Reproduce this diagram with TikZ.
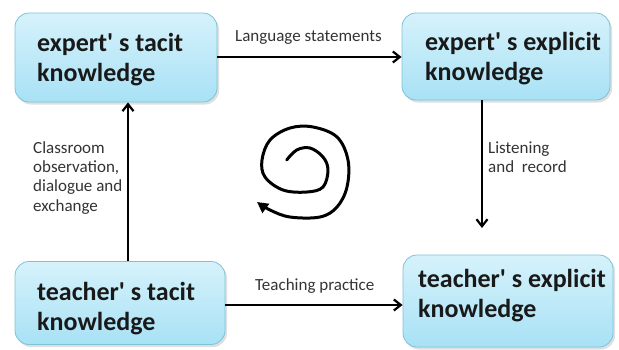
\documentclass[tikz,border=0pt]{standalone}
\usepackage{fontspec}
\setmainfont{Carlito}
\usetikzlibrary{arrows.meta,shadows}

\definecolor{boxtop}{HTML}{D6F2FB}
\definecolor{boxbot}{HTML}{A8E1F5}
\definecolor{boxline}{HTML}{7CC3D8}
\definecolor{labelgray}{HTML}{333333}

\newcommand{\apos}{\textquotesingle}

\tikzset{
  kbox/.style={draw=boxline, line width=0.8pt, rounded corners=14pt,
    top color=boxtop, bottom color=boxbot,
    drop shadow={shadow xshift=2pt, shadow yshift=-2.5pt, opacity=0.25, fill=gray},
    inner sep=0pt},
  ktext/.style={anchor=base west, align=left, inner sep=0pt,
    font=\fontsize{26}{30}\selectfont\bfseries, text=black!90},
  edgelabel/.style={anchor=base west, align=left, inner sep=0pt,
    font=\fontsize{17}{19.3}\selectfont, text=labelgray},
  flow/.style={line width=2.6pt, -{Straight Barb[length=7pt,width=11pt,line width=2.2pt]}},
}

\begin{document}
\begin{tikzpicture}[x=1pt,y=-1pt]
  \useasboundingbox (0,0) rectangle (619,349);

  % four knowledge boxes
  \node[kbox, minimum width=202pt, minimum height=89pt] (et) at (116,57.5) {};
  \node[kbox, minimum width=208pt, minimum height=87pt] (ee) at (506,56.5) {};
  \node[kbox, minimum width=210pt, minimum height=83pt] (tt) at (120,303) {};
  \node[kbox, minimum width=210pt, minimum height=92pt] (te) at (508,301) {};

  % box texts (anchored at the baseline of their last line)
  \node[ktext] (ett) at (37,81) {expert\apos\ s tacit\\knowledge};
  \node[ktext] (eet) at (425,80) {expert\apos\ s explicit\\knowledge};
  \node[ktext] (ttt) at (37,330) {teacher\apos\ s tacit\\knowledge};
  \node[ktext] (tet) at (418,317) {teacher\apos\ s explicit\\knowledge};

  % conversions between the boxes
  \draw[flow] (et.east |- 0,57) -- (ee.west |- 0,57);
  \draw[flow] (482,0 |- ee.south) -- (482,228);
  \draw[flow] (tt.east |- 0,305) -- (te.west |- 0,305);
  \draw[flow] (128,0 |- tt.north) -- (128,0 |- et.south);

  \node[edgelabel] (l1) at (235,41.5) {Language statements};
  \node[edgelabel] (l2) at (488,172.5) {Listening\\and~~record};
  \node[edgelabel] (l3) at (255,290) {Teaching practice};
  \node[edgelabel] (l4) at (33,211) {Classroom\\observation,\\dialogue and\\exchange};

  % hand-drawn spiral in the middle
  \draw[line width=3pt, line cap=round, line join=round,
        -{Triangle[length=11pt,width=11pt]}]
    plot[smooth, tension=0.6] coordinates {
      (286.7,160) (296.7,150) (310,148) (323,157) (328,170) (323,187)
      (307,192) (283,190) (265,177) (262,160) (270,140) (290,128)
      (313,127) (337,137) (348,160) (347,187) (337,207) (320,217)
      (290,217) (270,210) (257,202)};
\end{tikzpicture}
\end{document}
